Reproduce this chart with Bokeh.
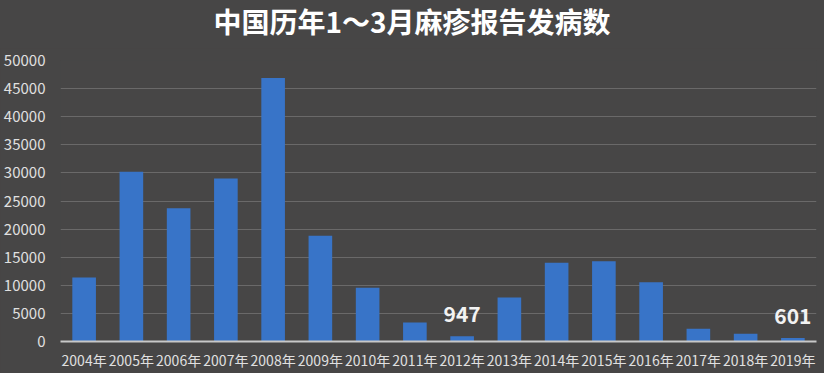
from bokeh.plotting import figure
from bokeh.models import ColumnDataSource, Range1d, FixedTicker, NumeralTickFormatter, Div
from bokeh.layouts import column
from bokeh.core.properties import value
from bokeh.embed import file_html
from bokeh.resources import INLINE

years = ["2004年", "2005年", "2006年", "2007年", "2008年", "2009年", "2010年", "2011年",
         "2012年", "2013年", "2014年", "2015年", "2016年", "2017年", "2018年", "2019年"]
cases = [11400, 30200, 23700, 29000, 46900, 18800, 9550, 3400,
         947, 7850, 14000, 14300, 10550, 2250, 1400, 601]
label_years = ["2012年", "2019年"]
label_values = [947, 601]
y_ticks = [0, 5000, 10000, 15000, 20000, 25000, 30000, 35000, 40000, 45000, 50000]
title_text = "中国历年1～3月麻疹报告发病数"

bg = "#474646"
font = "Noto Sans CJK SC"

title_div = Div(
    text=('<div style="width:824px;height:48px;margin:0;padding:0;text-align:center;'
          'line-height:42px;font-size:28px;font-weight:bold;color:#ffffff;'
          'font-family:\'Noto Sans CJK SC\';">' + title_text + '</div>'),
    width=824, height=48, margin=0,
    styles={"background-color": bg, "padding": "0px", "margin": "0px"})

p = figure(x_range=years, y_range=Range1d(0, 50000), width=824, height=325,
           output_backend="svg", toolbar_location=None, margin=0,
           min_border_left=57, min_border_right=8, min_border_top=12, min_border_bottom=32)
p.background_fill_color = bg
p.border_fill_color = bg
p.outline_line_color = None

src = ColumnDataSource(dict(year=years, cases=cases))
p.vbar(x="year", top="cases", width=0.5, source=src, fill_color="#3874c8", line_color=None)

lsrc = ColumnDataSource(dict(year=label_years, v=label_values, t=[str(v) for v in label_values]))
p.text(x="year", y="v", text="t", source=lsrc, text_align="center", text_baseline="middle",
       y_offset=-22, text_color="#f2f2f2", text_font=value(font), text_font_size="21px",
       text_font_style="bold")

p.yaxis.ticker = FixedTicker(ticks=y_ticks)
p.yaxis.formatter = NumeralTickFormatter(format="0")
p.yaxis.axis_line_color = None
p.yaxis.major_tick_line_color = None
p.yaxis.minor_tick_line_color = None
p.yaxis.major_label_text_color = "#e0e0e0"
p.yaxis.major_label_text_font = font
p.yaxis.major_label_text_font_size = "15px"
p.yaxis.major_label_standoff = 9

p.xaxis.axis_line_color = "#c8c8c8"
p.xaxis.axis_line_width = 2
p.xaxis.major_tick_line_color = None
p.xaxis.minor_tick_line_color = None
p.xaxis.major_label_text_color = "#e0e0e0"
p.xaxis.major_label_text_font = font
p.xaxis.major_label_text_font_size = "14px"
p.xaxis.major_label_standoff = 2

p.xgrid.grid_line_color = None
p.ygrid.grid_line_color = "#6a6969"
p.ygrid.grid_line_width = 1
p.x_range.range_padding = 0.0

layout = column(title_div, p, spacing=0, margin=0, styles={"background-color": bg})

open("out.html", "w").write(file_html(layout, INLINE))
